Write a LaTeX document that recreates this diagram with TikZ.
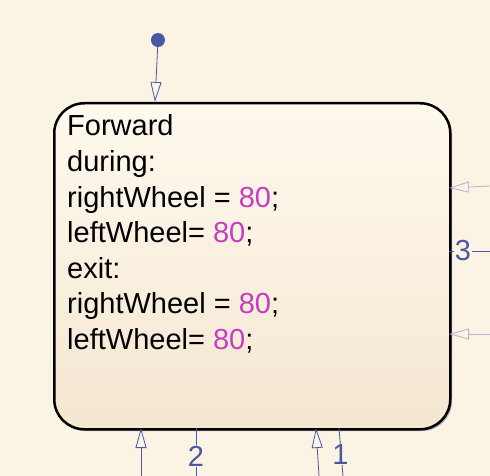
\documentclass[tikz,border=0pt]{standalone}
\usepackage{fontspec}
\setmainfont{Liberation Sans}
\usetikzlibrary{arrows.meta,shadows}
\definecolor{bg}{HTML}{FBF3E4}
\definecolor{boxtop}{HTML}{FFF9EE}
\definecolor{boxbot}{HTML}{F4E7D1}
\definecolor{conn}{HTML}{4B57A5}
\definecolor{connlight}{HTML}{B4B4D4}
\definecolor{num}{HTML}{C83CC0}
\tikzset{
  codeline/.style={anchor=base west, inner sep=0pt, font=\fontsize{29}{35}\selectfont},
  lbl/.style={inner sep=0.5pt, fill=bg, text=conn, font=\fontsize{29}{35}\selectfont},
  trans/.style={draw=conn, line width=0.8pt, -{Triangle[open, length=20pt, width=11pt]}},
  translight/.style={draw=connlight, line width=0.8pt, -{Triangle[open, length=20pt, width=11pt]}},
  plain/.style={draw=conn, line width=0.8pt},
}
\begin{document}
\begin{tikzpicture}[x=1pt,y=-1pt]
\fill[bg] (0,0) rectangle (490,476);
\useasboundingbox (0,0) rectangle (490,476);
% state box
\fill[black!35, rounded corners=30pt] (55,104) rectangle (452,431);
\node[draw=black, line width=2.5pt, rounded corners=30pt, top color=boxtop, bottom color=boxbot,
  minimum width=396pt, minimum height=326pt, inner sep=0pt, anchor=north west] (st) at (53,102) {};
% text
\node[codeline] (l1) at (67,136) {Forward};
\node[codeline] (l2) at (67,171.5) {during:};
\node[codeline] (l3) at (67,207) {rightWheel = \textcolor{num}{80};};
\node[codeline] (l4) at (67,242.5) {leftWheel= \textcolor{num}{80};};
\node[codeline] (l5) at (67,278) {exit:};
\node[codeline] (l6) at (67,313.5) {rightWheel = \textcolor{num}{80};};
\node[codeline] (l7) at (67,349) {leftWheel= \textcolor{num}{80};};
% default transition
\node[circle, fill=conn, minimum size=14pt, inner sep=0pt] (dot) at (158,40) {};
\coordinate (dtend) at (155,102);
\draw[trans] (dot) -- (dtend);
% right side
\coordinate (r1a) at (490,186);
\coordinate (r1b) at (449,188);
\draw[translight] (r1a) -- (r1b);
\coordinate (r2a) at (490,334);
\coordinate (r2b) at (449,334);
\draw[translight] (r2a) -- (r2b);
\coordinate (r3a) at (449,251);
\coordinate (r3b) at (490,251);
\draw[plain] (r3a) -- (r3b);
\node[lbl] (n3) at (463,251) {3};
% bottom
\coordinate (b1a) at (141,476);
\coordinate (b1b) at (141,428);
\draw[trans] (b1a) -- (b1b);
\coordinate (b2a) at (196,428);
\coordinate (b2b) at (196,476);
\draw[plain] (b2a) -- (b2b);
\node[lbl] (n2) at (196,456) {2};
\coordinate (b3a) at (319,476);
\coordinate (b3b) at (316,428);
\draw[trans] (b3a) -- (b3b);
\coordinate (b4a) at (339,428);
\coordinate (b4b) at (343,476);
\draw[plain] (b4a) -- (b4b);
\node[lbl] (n1) at (340.5,455) {1};
\end{tikzpicture}
\end{document}
